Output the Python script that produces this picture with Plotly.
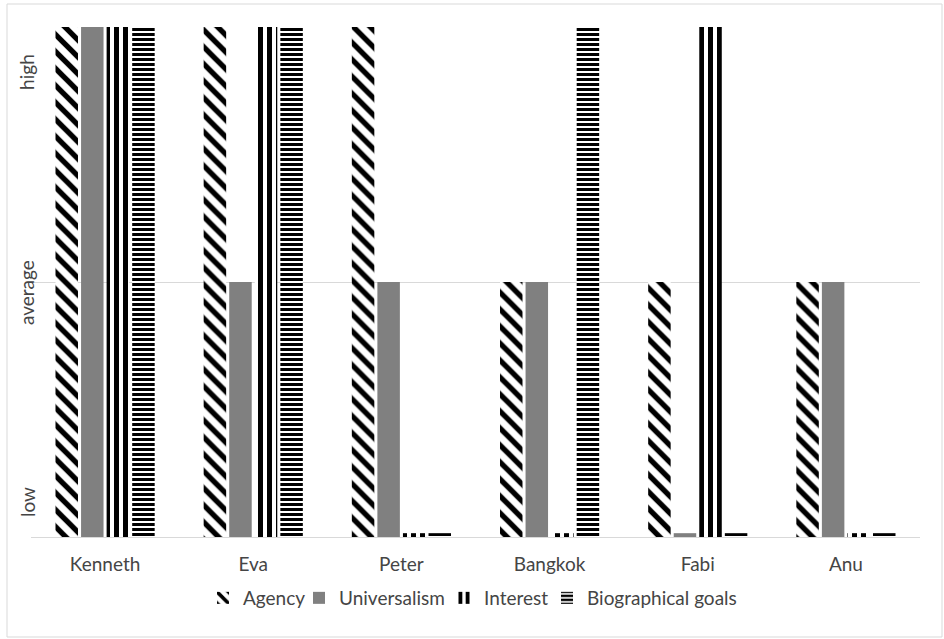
import plotly.graph_objects as go

categories = ["Kenneth", "Eva", "Peter", "Bangkok", "Fabi", "Anu"]
agency = [2, 2, 2, 1, 1, 1]
universalism = [2, 1, 1, 1, 0.015, 1]
interest = [2, 2, 0.015, 0.015, 2, 0.015]
bio_goals = [2, 2, 0.015, 2, 0.015, 0.015]
level_labels = ["low", "average", "high"]
level_label_pos = [0.137, 0.957, 1.824]

FONT = "Lato"
TXT = "#454545"
FS = 19

W, H = 944, 639
L, R, T, B = 31, 24, 27, 102
pw = W - L - R
ph = H - T - B

fig = go.Figure()
fig.add_trace(go.Bar(name="Agency", x=categories, y=agency, legend="legend",
                     marker=dict(color="white", line=dict(width=0),
                                 pattern=dict(shape="\\", fgcolor="black", bgcolor="white",
                                              size=12, solidity=0.45, fillmode="replace"))))
fig.add_trace(go.Bar(name="Universalism", x=categories, y=universalism, legend="legend2",
                     marker=dict(color="#808080", line=dict(width=0))))
fig.add_trace(go.Bar(name="Interest", x=categories, y=interest, legend="legend3",
                     marker=dict(color="white", line=dict(width=0),
                                 pattern=dict(shape="|", fgcolor="black", bgcolor="white",
                                              size=9, solidity=0.55, fillmode="replace"))))
fig.add_trace(go.Bar(name="Biographical goals", x=categories, y=bio_goals, legend="legend4",
                     marker=dict(color="white", line=dict(width=0),
                                 pattern=dict(shape="-", fgcolor="black", bgcolor="white",
                                              size=5, solidity=0.6, fillmode="replace"))))

annotations = []
for lab, pos in zip(level_labels, level_label_pos):
    annotations.append(dict(text=lab, x=(27 - L) / pw, xref="paper", y=pos, yref="y",
                            textangle=-90, showarrow=False, xanchor="center", yanchor="middle",
                            font=dict(family=FONT, size=FS, color=TXT)))

legend_text_x = [243, 339, 484, 587]
legends = {}
for i, tx in enumerate(legend_text_x):
    key = "legend" if i == 0 else f"legend{i + 1}"
    legends[key] = dict(orientation="h", x=(tx - 40 - L) / pw, xanchor="left",
                        y=(537 - 598) / ph, yanchor="middle", bgcolor="rgba(0,0,0,0)",
                        font=dict(family=FONT, size=FS, color=TXT), itemwidth=30)

fig.update_layout(
    width=W, height=H,
    margin=dict(l=L, r=R, t=T, b=B),
    paper_bgcolor="white", plot_bgcolor="white",
    barmode="group", bargap=0.31, bargroupgap=0.12,
    font=dict(family=FONT, size=FS, color=TXT),
    showlegend=True,
    xaxis=dict(showgrid=False, showline=True, linecolor="#d9d9d9", linewidth=1,
               ticks="", ticklabelstandoff=10, tickfont=dict(family=FONT, size=FS, color=TXT)),
    yaxis=dict(range=[0, 2], tickvals=[0, 1, 2], showticklabels=False, showgrid=True,
               gridcolor="#d9d9d9", gridwidth=1, zeroline=False, showline=False, fixedrange=True),
    annotations=annotations,
    shapes=[dict(type="rect", xref="paper", yref="paper",
                 x0=(7 - L) / pw, x1=(942 - L) / pw, y0=(537 - 637) / ph, y1=(537 - 4) / ph,
                 line=dict(color="#d9d9d9", width=1), fillcolor="rgba(0,0,0,0)", layer="below")],
    **legends,
)

fig.write_html("out.html", config={"displayModeBar": False},
               post_script="document.body.style.margin='0';document.body.style.overflow='hidden';")
